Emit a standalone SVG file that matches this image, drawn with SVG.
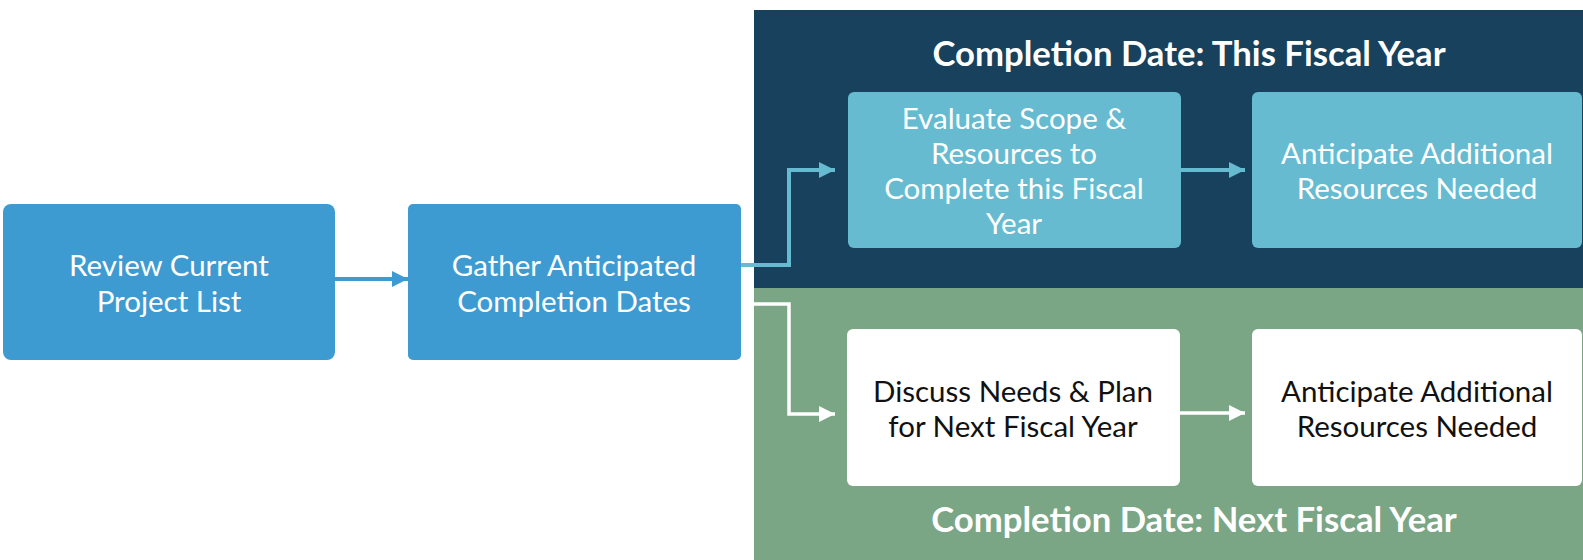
<svg xmlns="http://www.w3.org/2000/svg" width="1583" height="560" viewBox="0 0 1583 560">
<defs>
<style>
.t{font-family:Lato,"Open Sans","Liberation Sans",sans-serif;font-size:29.5px;text-anchor:middle}
.w{fill:#ffffff}
.k{fill:#111111}
.h{font-family:Lato,"Open Sans","Liberation Sans",sans-serif;font-size:34.7px;font-weight:bold;fill:#ffffff;text-anchor:middle}
.blue{fill:#3e9bd2}
.lb{fill:#67bbd0}
.wb{fill:#ffffff}
</style>
<marker id="aB" viewBox="0 0 16 16" refX="16" refY="8" markerUnits="userSpaceOnUse" markerWidth="16" markerHeight="16" orient="auto"><path d="M0,0 L16,8 L0,16 Z" fill="#3e9bd2"/></marker>
<marker id="aL" viewBox="0 0 16 16" refX="16" refY="8" markerUnits="userSpaceOnUse" markerWidth="16" markerHeight="16" orient="auto"><path d="M0,0 L16,8 L0,16 Z" fill="#67bbd0"/></marker>
<marker id="aW" viewBox="0 0 16 16" refX="16" refY="8" markerUnits="userSpaceOnUse" markerWidth="16" markerHeight="16" orient="auto"><path d="M0,0 L16,8 L0,16 Z" fill="#ffffff"/></marker>
</defs>
<rect width="1583" height="560" fill="#ffffff"/>
<g id="panel-this">
<rect x="754" y="10" width="829" height="278" fill="#17415c"/>
<text class="h" x="1189" y="66">Completion Date: This Fiscal Year</text>
</g>
<g id="panel-next">
<rect x="754" y="288" width="829" height="272" fill="#7ba686"/>
<text class="h" x="1194" y="532">Completion Date: Next Fiscal Year</text>
</g>
<g id="connectors" fill="none">
<path d="M335,279 H408" stroke="#3e9bd2" stroke-width="4" marker-end="url(#aB)"/>
<path d="M741,265 H789 V170 H835" stroke="#67bbd0" stroke-width="4" marker-end="url(#aL)"/>
<path d="M741,304 H789 V414 H835" stroke="#ffffff" stroke-width="3.5" marker-end="url(#aW)"/>
<path d="M1181,170 H1245" stroke="#67bbd0" stroke-width="4" marker-end="url(#aL)"/>
<path d="M1180,413 H1245" stroke="#ffffff" stroke-width="3.5" marker-end="url(#aW)"/>
</g>
<g id="review">
<rect class="blue" x="3" y="204" width="332" height="156" rx="8"/>
<text class="t w" x="169" y="276">Review Current</text>
<text class="t w" x="169" y="312">Project List</text>
</g>
<g id="gather">
<rect class="blue" x="408" y="204" width="333" height="156" rx="5"/>
<text class="t w" x="574" y="276">Gather Anticipated</text>
<text class="t w" x="574" y="312">Completion Dates</text>
</g>
<g id="evaluate">
<rect class="lb" x="848" y="92" width="333" height="156" rx="6"/>
<text class="t w" x="1014" y="129">Evaluate Scope &amp;</text>
<text class="t w" x="1014" y="164">Resources to</text>
<text class="t w" x="1014" y="199">Complete this Fiscal</text>
<text class="t w" x="1014" y="234">Year</text>
</g>
<g id="anticipate-this">
<rect class="lb" x="1252" y="92" width="330" height="156" rx="6"/>
<text class="t w" x="1417" y="164">Anticipate Additional</text>
<text class="t w" x="1417" y="199">Resources Needed</text>
</g>
<g id="discuss">
<rect class="wb" x="847" y="329" width="333" height="157" rx="6"/>
<text class="t k" x="1013" y="402">Discuss Needs &amp; Plan</text>
<text class="t k" x="1013" y="437">for Next Fiscal Year</text>
</g>
<g id="anticipate-next">
<rect class="wb" x="1252" y="329" width="330" height="157" rx="6"/>
<text class="t k" x="1417" y="402">Anticipate Additional</text>
<text class="t k" x="1417" y="437">Resources Needed</text>
</g>
</svg>
